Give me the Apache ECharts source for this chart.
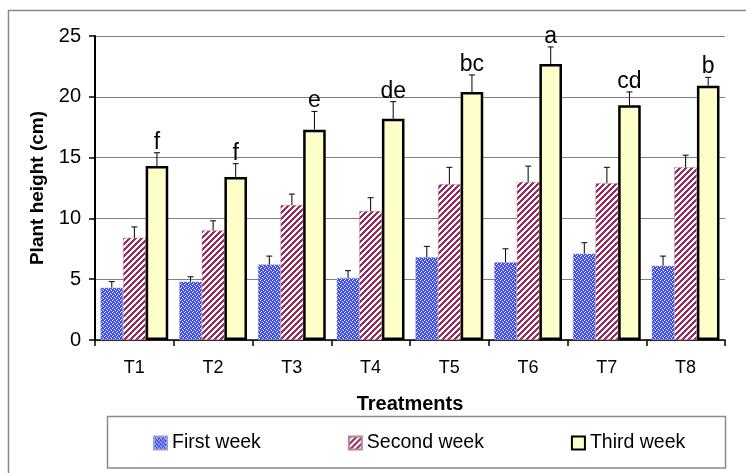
<!DOCTYPE html>
<html><head><meta charset="utf-8">
<script src="https://cdn.jsdelivr.net/npm/echarts@6/dist/echarts.min.js"></script>
<style>html,body{margin:0;padding:0;background:#fff}#c{width:746px;height:473px}</style>
</head><body><div id="c"></div>
<script>
const categories = ['T1','T2','T3','T4','T5','T6','T7','T8'];
const seriesNames = ['First week','Second week','Third week'];
const firstWeek = [4.3, 4.8, 6.2, 5.1, 6.8, 6.4, 7.1, 6.1];
const firstWeekErr = [0.5, 0.4, 0.7, 0.6, 0.9, 1.1, 0.9, 0.8];
const secondWeek = [8.4, 9.0, 11.1, 10.6, 12.8, 13.0, 12.9, 14.2];
const secondWeekErr = [0.9, 0.8, 0.9, 1.1, 1.4, 1.3, 1.3, 1.0];
const thirdWeek = [14.3, 13.4, 17.3, 18.2, 20.4, 22.7, 19.3, 20.9];
const thirdWeekErr = [1.1, 1.1, 1.5, 1.4, 1.4, 1.4, 1.1, 0.7];
const letters = ['f','f','e','de','bc','a','cd','b'];
const yTicks = {min: 0, max: 25, interval: 5};

const FONT = '"Liberation Sans", Arial, sans-serif';

function dotPattern() {
  const s = 4, c = document.createElement('canvas');
  c.width = s; c.height = s;
  const ctx = c.getContext('2d');
  ctx.fillStyle = '#3a48f5'; ctx.fillRect(0, 0, s, s);
  ctx.fillStyle = '#ffffff';
  [[0,0],[2,1],[1,3],[3,2]].forEach(p => ctx.fillRect(p[0], p[1], 1, 1));
  return c;
}
function stripePattern() {
  const s = 6, c = document.createElement('canvas');
  c.width = s; c.height = s;
  const ctx = c.getContext('2d');
  const img = ctx.createImageData(s, s);
  for (let y = 0; y < s; y++) for (let x = 0; x < s; x++) {
    const i = (y * s + x) * 4;
    const on = ((x + y) % s) < 3;
    img.data[i] = on ? 0x9a : 255;
    img.data[i+1] = on ? 0x2a : 255;
    img.data[i+2] = on ? 0x5c : 255;
    img.data[i+3] = 255;
  }
  ctx.putImageData(img, 0, 0);
  return c;
}

const CAT_GAP = 0.14;
const values = [firstWeek, secondWeek, thirdWeek];
const errs = [firstWeekErr, secondWeekErr, thirdWeekErr];
const errData = [];
for (let s = 0; s < 3; s++) for (let i = 0; i < categories.length; i++) {
  errData.push([i, s, values[s][i] + errs[s][i], values[s][i]]);
}

const chart = echarts.init(document.getElementById('c'));
chart.setOption({
  animation: false,
  backgroundColor: '#fff',
  textStyle: {fontFamily: FONT},
  graphic: [
    {type: 'rect', silent: true, z: -1, shape: {x: 8.5, y: 10.5, width: 800, height: 500},
     style: {fill: 'none', stroke: '#8a8a8a', lineWidth: 1.5}},
    {type: 'rect', silent: true, z: -1, shape: {x: 107.5, y: 416.5, width: 618, height: 51.5},
     style: {fill: 'none', stroke: '#8a8a8a', lineWidth: 1.5}}
  ],
  legend: {
    data: seriesNames,
    left: 148, top: 428,
    itemWidth: 13, itemHeight: 13, itemGap: 87,
    icon: 'rect',
    textStyle: {fontSize: 19.5, color: '#000', fontFamily: FONT}
  },
  grid: {left: 95, right: 21, top: 36, bottom: 133},
  xAxis: {
    type: 'category', data: categories,
    name: 'Treatments', nameLocation: 'middle', nameGap: 54,
    nameTextStyle: {fontSize: 20, fontWeight: 'bold', color: '#000', fontFamily: FONT},
    axisLine: {lineStyle: {color: '#000', width: 1.5}},
    axisTick: {show: true, length: 6, lineStyle: {color: '#000', width: 1.5}},
    axisLabel: {fontSize: 18, color: '#000', margin: 19, fontFamily: FONT}
  },
  yAxis: {
    type: 'value', min: yTicks.min, max: yTicks.max, interval: yTicks.interval,
    name: 'Plant height (cm)', nameLocation: 'middle', nameGap: 48,
    nameTextStyle: {fontSize: 19, fontWeight: 'bold', color: '#000', fontFamily: FONT},
    axisLine: {show: true, lineStyle: {color: '#000', width: 2}},
    axisTick: {show: true, length: 6, lineStyle: {color: '#000', width: 1.5}},
    axisLabel: {fontSize: 20, color: '#000', margin: 14, fontFamily: FONT},
    splitLine: {lineStyle: {color: '#808080', width: 1}}
  },
  series: [
    {name: seriesNames[0], type: 'bar', data: firstWeek, barGap: '0%', barCategoryGap: (CAT_GAP*100)+'%',
     itemStyle: {color: {image: dotPattern(), repeat: 'repeat'}, borderColor: '#9aa0c8', borderWidth: 0.5}},
    {name: seriesNames[1], type: 'bar', data: secondWeek, barGap: '0%', barCategoryGap: (CAT_GAP*100)+'%',
     itemStyle: {color: {image: stripePattern(), repeat: 'repeat'}, borderColor: '#b08a9a', borderWidth: 0.5}},
    {name: seriesNames[2], type: 'bar', data: thirdWeek, barGap: '0%', barCategoryGap: (CAT_GAP*100)+'%',
     itemStyle: {color: '#FFFFCC', borderColor: '#000', borderWidth: 2.5}},
    {type: 'custom', data: errData, z: 10, encode: {x: 0, y: 2},
     renderItem: function (params, api) {
       const cat = api.value(0), s = api.value(1), top = api.value(2), mean = api.value(3);
       const catW = api.size([1, 0])[0];
       const bw = catW * (1 - CAT_GAP) / 3;
       const pTop = api.coord([cat, top]);
       const pBase = api.coord([cat, mean]);
       const x = pTop[0] + (s - 1) * bw;
       const children = [
         {type: 'line', shape: {x1: x, y1: pBase[1], x2: x, y2: pTop[1]}, style: {stroke: '#000', lineWidth: 1}},
         {type: 'line', shape: {x1: x - 3, y1: pTop[1], x2: x + 3, y2: pTop[1]}, style: {stroke: '#000', lineWidth: 1}}
       ];
       if (s === 2) {
         children.push({type: 'text', x: x, y: pTop[1] + 1,
           style: {text: letters[cat], fill: '#000', font: '23px ' + FONT, align: 'center', verticalAlign: 'bottom'}});
       }
       return {type: 'group', children: children};
     }}
  ]
});
</script>
</body></html>
